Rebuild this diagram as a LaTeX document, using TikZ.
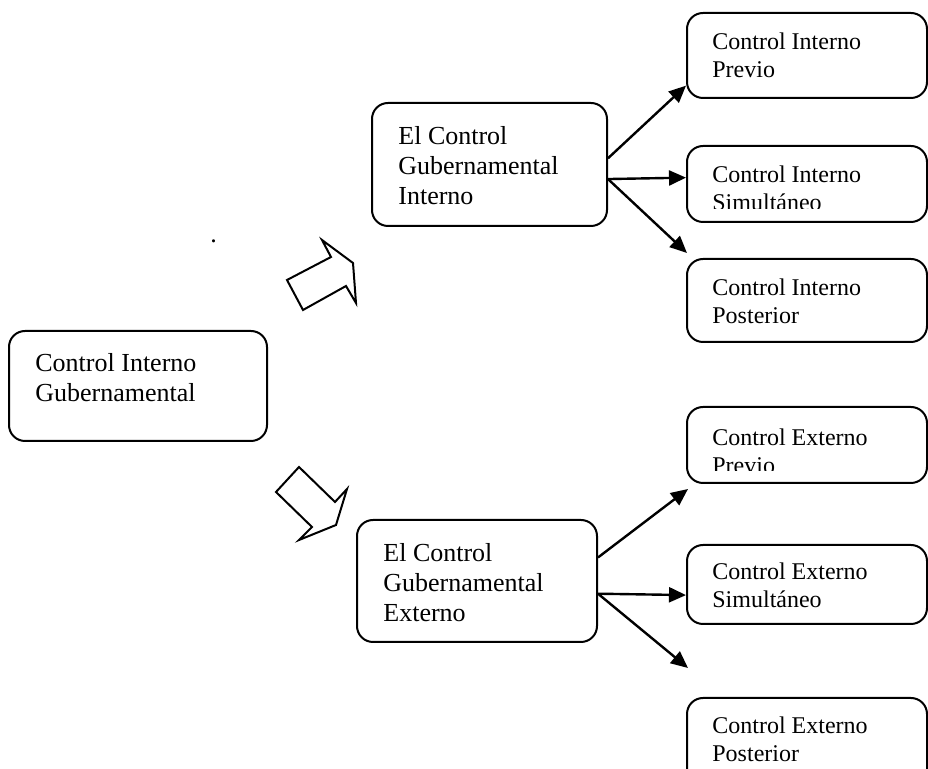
\documentclass[tikz,border=0pt]{standalone}
\usepackage{fontspec}
\setmainfont{Liberation Serif}
\usetikzlibrary{arrows.meta,fit}

\begin{document}
\begin{tikzpicture}[x=0.5pt,y=-0.5pt,
    caja/.style={draw,line width=1pt,rounded corners=8pt,inner sep=0pt},
    texto/.style={align=left,inner sep=0pt,anchor=base west,font=\fontsize{13}{15}\selectfont},
    textochico/.style={align=left,inner sep=0pt,anchor=base west,font=\fontsize{12}{14}\selectfont},
    flecha/.style={line width=1.2pt,-{Triangle[length=8.5pt,width=7.5pt]}},
    bloque/.style={draw,line width=1pt,line join=miter}]
        \clip (0,0) rectangle (928,769);
        % cajas
        \node[caja,fit={(9,331)(267,441)}] (cig) {};
        \node[caja,fit={(372,103)(607,226)}] (cgi) {};
        \node[caja,fit={(357,520)(597,642)}] (cge) {};
        \node[caja,fit={(687,13)(927,98)}] (cip) {};
        \node[caja,fit={(687,146)(927,222)}] (cis) {};
        \node[caja,fit={(687,259)(927,342)}] (cipo) {};
        \node[caja,fit={(687,407)(927,483)}] (cep) {};
        \node[caja,fit={(687,545)(927,624)}] (ces) {};
        \node[caja,fit={(687,698)(927,800)}] (cepo) {};
        % textos (anclados en la ultima linea)
        \node[texto] (t-cig) at (35,402) {Control Interno\\Gubernamental};
        \node[texto] (t-cgi) at (398,205) {El Control\\Gubernamental\\Interno};
        \node[texto] (t-cge) at (383,622) {El Control\\Gubernamental\\Externo};
        \node[textochico] (t-cip) at (712,78) {Control Interno\\Previo};
        \begin{scope}
            \clip (690,150) rectangle (925,209);
            \node[textochico] (t-cis) at (712,211) {Control Interno\\Simult\'aneo};
        \end{scope}
        \node[textochico] (t-cipo) at (712,324) {Control Interno\\Posterior};
        \begin{scope}
            \clip (690,410) rectangle (925,471);
            \node[textochico] (t-cep) at (712,474) {Control Externo\\Previo};
        \end{scope}
        \node[textochico] (t-ces) at (712,608) {Control Externo\\Simult\'aneo};
        \node[textochico] (t-cepo) at (712,762) {Control Externo\\Posterior};
        \node[texto] (punto) at (210,243) {.};
        % flechas de bloque
        \draw[bloque] (287,280) -- (331,257) -- (322,240) -- (353,263) -- (356,303) -- (346,286) -- (303,310) -- cycle;
        \draw[bloque] (276,492) -- (299,467) -- (335,502) -- (347,489) -- (336,525) -- (299,540) -- (312,527) -- cycle;
        % conectores
        \coordinate (fin-cipo) at (687,253);
        \coordinate (fin-cep) at (688,489);
        \coordinate (fin-cepo) at (688,668);
        \draw[flecha] (cgi.3) -- (cip.194);
        \draw[flecha] (cgi.-7) -- (cis.177);
        \draw[flecha] (cgi.-7) -- (fin-cipo);
        \draw[flecha] (cge.11) -- (fin-cep);
        \draw[flecha] (cge.-6) -- (ces.185);
        \draw[flecha] (cge.-6) -- (fin-cepo);
    \end{tikzpicture}
\end{document}
